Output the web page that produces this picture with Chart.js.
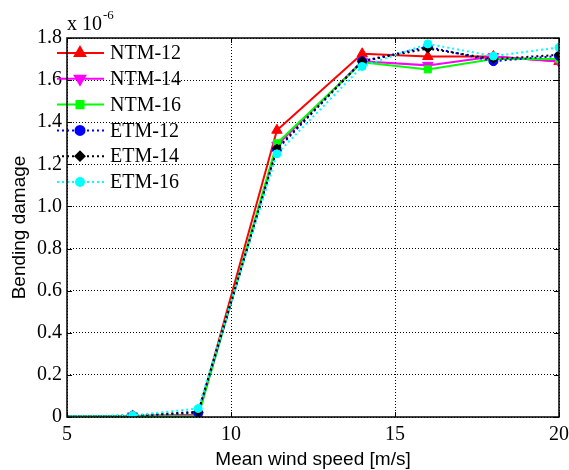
<!DOCTYPE html>
<html>
<head>
<meta charset="utf-8">
<script src="https://cdn.jsdelivr.net/npm/chart.js@4.4.1/dist/chart.umd.min.js"></script>
<style>
  html, body { margin: 0; padding: 0; background: #fff; }
  #wrap { width: 569px; height: 470px; }
</style>
</head>
<body>
<div id="wrap"><canvas id="damageChart" width="569" height="470"></canvas></div>
<script>
// wind speeds [m/s] (first point lies left of the visible axis)
const speeds = [3, 7, 9, 11.4, 14, 16, 18, 20];

// bending damage, x 10^-6
const ntm12 = [0, 0.005, 0.010, 1.362, 1.725, 1.712, 1.712, 1.688];
const ntm14 = [0, 0.005, 0.008, 1.290, 1.690, 1.670, 1.712, 1.688];
const ntm16 = [0, 0.004, 0.004, 1.300, 1.685, 1.651, 1.700, 1.700];
const etm12 = [0, 0.006, 0.020, 1.270, 1.690, 1.758, 1.690, 1.715];
const etm14 = [0, 0.006, 0.025, 1.275, 1.690, 1.750, 1.700, 1.720];
const etm16 = [0, 0.008, 0.040, 1.250, 1.665, 1.772, 1.714, 1.755];

const xTicks = [5, 10, 15, 20];
const yTicks = [0, 0.2, 0.4, 0.6, 0.8, 1, 1.2, 1.4, 1.6, 1.8];

const seriesNames = ['NTM-12', 'NTM-14', 'NTM-16', 'ETM-12', 'ETM-14', 'ETM-16'];
const seriesValues = [ntm12, ntm14, ntm16, etm12, etm14, etm16];
const seriesColors = ['#ff0000', '#ff00ff', '#00ff00', '#0000ff', '#000000', '#00ffff'];
const seriesMarkers = ['triangle', 'triangle', 'rect', 'circle', 'rectRot', 'circle'];
const markerRotation = [0, 180, 0, 0, 0, 0];
const markerRadius = [6, 6, 5, 4.5, 4.5, 4];
const dotted = [false, false, false, true, true, true];

const serif = "'Liberation Serif', 'Times New Roman', serif";
const sans = "'Liberation Sans', Arial, sans-serif";

const datasets = seriesNames.map((name, i) => ({
    label: name,
    data: speeds.map((s, k) => ({ x: s, y: seriesValues[i][k] })),
    borderColor: seriesColors[i],
    backgroundColor: seriesColors[i],
    borderWidth: 2,
    borderDash: dotted[i] ? [2, 3] : [],
    pointStyle: seriesMarkers[i],
    rotation: markerRotation[i],
    pointRadius: markerRadius[i],
    pointBorderWidth: 1,
    pointBorderColor: seriesColors[i],
    tension: 0,
    order: seriesNames.length - i // later series drawn on top, like matlab
}));

// legend drawn like matlab: line sample + marker, no box
const matlabLegend = {
    id: 'matlabLegend',
    afterDatasetsDraw(chart) {
        const ctx = chart.ctx;
        const x0 = 57, x1 = 104, xm = 80, y0 = 53, gap = 25.8;
        ctx.save();
        seriesNames.forEach((name, i) => {
            const y = y0 + i * gap;
            ctx.strokeStyle = seriesColors[i];
            ctx.lineWidth = 2;
            ctx.setLineDash(dotted[i] ? [2, 3] : []);
            ctx.beginPath();
            ctx.moveTo(x0, y);
            ctx.lineTo(x1, y);
            ctx.stroke();
            ctx.setLineDash([]);
            ctx.fillStyle = seriesColors[i];
            Chart.helpers.drawPoint(ctx, {
                pointStyle: seriesMarkers[i],
                radius: markerRadius[i],
                rotation: markerRotation[i],
                borderWidth: 1
            }, xm, y);
            ctx.fillStyle = '#000';
            ctx.font = '20px ' + serif;
            ctx.textBaseline = 'middle';
            ctx.textAlign = 'left';
            ctx.fillText(name, 110, y + 1);
        });
        ctx.restore();
    }
};

// box around the axes and the "x 10^-6" exponent label
const frameAndExponent = {
    id: 'frameAndExponent',
    afterDraw(chart) {
        const { ctx, chartArea: a } = chart;
        ctx.save();
        ctx.strokeStyle = '#000';
        ctx.lineWidth = 1.5;
        ctx.strokeRect(a.left, a.top, a.right - a.left, a.bottom - a.top);
        // small inward ticks
        const ys = chart.scales.y;
        ctx.lineWidth = 1;
        yTicks.forEach(v => {
            const py = Math.round(ys.getPixelForValue(v)) + 0.5;
            ctx.beginPath();
            ctx.moveTo(a.left, py); ctx.lineTo(a.left + 5, py);
            ctx.moveTo(a.right, py); ctx.lineTo(a.right - 5, py);
            ctx.stroke();
        });
        const xs = chart.scales.x;
        xTicks.forEach(v => {
            const px = Math.round(xs.getPixelForValue(v)) + 0.5;
            ctx.beginPath();
            ctx.moveTo(px, a.bottom); ctx.lineTo(px, a.bottom - 5);
            ctx.moveTo(px, a.top); ctx.lineTo(px, a.top + 5);
            ctx.stroke();
        });
        ctx.fillStyle = '#000';
        ctx.textBaseline = 'alphabetic';
        ctx.textAlign = 'left';
        ctx.font = '20px ' + serif;
        ctx.fillText('x 10', a.left, 30);
        const w = ctx.measureText('x 10').width;
        ctx.font = '13px ' + serif;
        ctx.fillText('-6', a.left + w + 1, 19);
        ctx.restore();
    }
};

const ctx = document.getElementById('damageChart').getContext('2d');
const damageChart = new Chart(ctx, {
    type: 'line',
    data: { datasets: datasets },
    options: {
        responsive: false,
        animation: false,
        layout: { padding: { left: 8, top: 38, right: 10, bottom: 0 } },
        plugins: {
            legend: { display: false },
            tooltip: { enabled: false }
        },
        scales: {
            x: {
                type: 'linear',
                min: 5,
                max: 20,
                afterBuildTicks: scale => { scale.ticks = xTicks.map(v => ({ value: v })); },
                afterFit: scale => {
                    scale.height = 53;
                    scale.paddingLeft = 0;
                    scale.paddingRight = 0;
                },
                ticks: {
                    color: '#000',
                    font: { family: serif, size: 20 },
                    padding: 6,
                    maxRotation: 0
                },
                grid: {
                    color: '#000',
                    lineWidth: 1,
                    drawTicks: false
                },
                border: { display: false, dash: [1, 2] },
                title: {
                    display: true,
                    text: 'Mean wind speed [m/s]',
                    color: '#000',
                    font: { family: sans, size: 19 },
                    padding: { top: 0, bottom: -1 }
                }
            },
            y: {
                min: 0,
                max: 1.8,
                afterBuildTicks: scale => { scale.ticks = yTicks.map(v => ({ value: v })); },
                afterFit: scale => {
                    scale.width = 59;
                    scale.paddingTop = 0;
                    scale.paddingBottom = 0;
                },
                ticks: {
                    color: '#000',
                    font: { family: serif, size: 20 },
                    padding: 5
                },
                grid: {
                    color: '#000',
                    lineWidth: 1,
                    drawTicks: false
                },
                border: { display: false, dash: [1, 2] },
                title: {
                    display: true,
                    text: 'Bending damage',
                    color: '#000',
                    font: { family: sans, size: 19 },
                    padding: { top: 0, bottom: 0 }
                }
            }
        }
    },
    plugins: [matlabLegend, frameAndExponent]
});
</script>
</body>
</html>
